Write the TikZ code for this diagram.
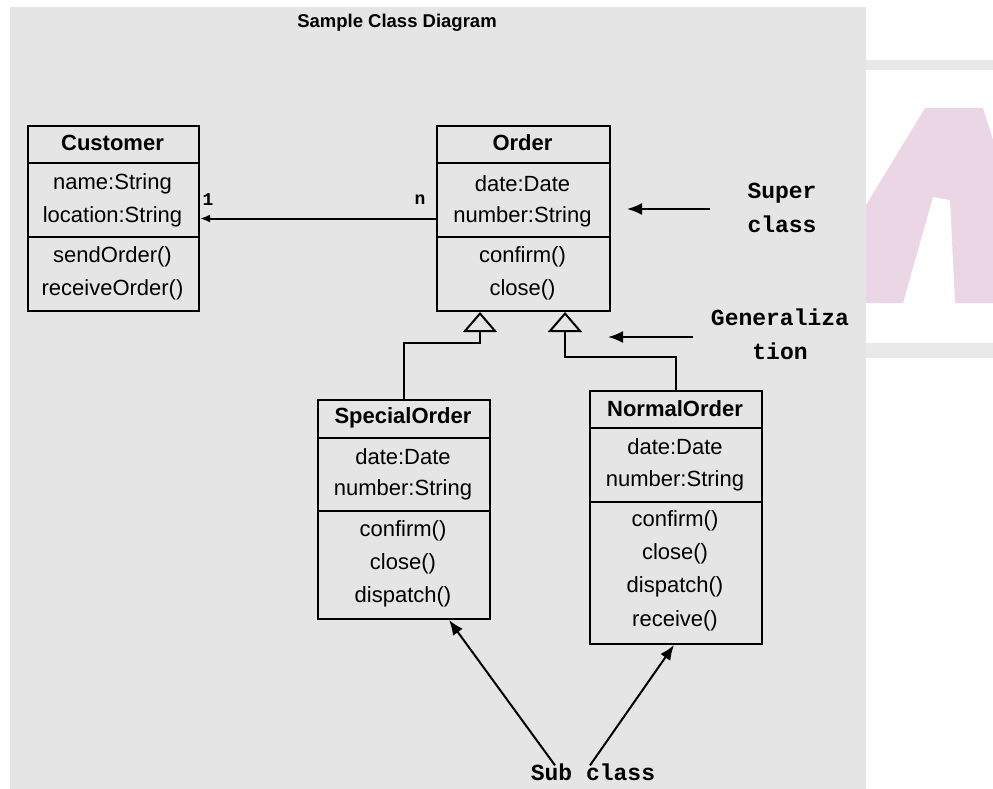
\documentclass[tikz,border=0pt]{standalone}
\usepackage{fontspec}
\setmainfont{Liberation Sans}
\setmonofont{Liberation Mono}
\usetikzlibrary{arrows.meta,calc}
\definecolor{panel}{RGB}{229,229,229}
\definecolor{wmpink}{RGB}{234,214,229}
\definecolor{wmgray}{RGB}{233,233,233}
\begin{document}
\begin{tikzpicture}[x=1pt,y=-1pt,
  clsbox/.style={draw=black, line width=2pt, inner sep=0pt, anchor=north west},
  divider/.style={draw=black, line width=2pt},
  member/.style={inner sep=0pt, font=\fontsize{22}{26}\selectfont},
  cname/.style={inner sep=0pt, font=\fontsize{22}{26}\selectfont\bfseries},
  mono/.style={inner sep=0pt, font=\fontsize{23}{34}\selectfont\ttfamily\bfseries, align=center},
  mult/.style={inner sep=0pt, font=\fontsize{18}{20}\selectfont\ttfamily\bfseries},
  conn/.style={draw=black, line width=2pt},
  gen/.style={conn, -{Triangle[open,length=20pt,width=34pt,line width=2pt]}},
  bigarrow/.style={conn, -{Latex[length=15pt,width=12pt]}},
  smallarrow/.style={conn, -{Latex[length=10pt,width=8pt]}}
]
\useasboundingbox (0,0) rectangle (993,789);
% background panel and watermark
\fill[panel] (10,7) rectangle (866,789);
\fill[wmgray] (866,60) rectangle (993,70);
\fill[wmgray] (866,343) rectangle (993,358);
\fill[wmpink] (866,303) -- (866,205) -- (925,108) -- (983,108) -- (993,140) -- (993,303) -- (955,303) -- (950,200) -- (933,197) -- (903,303) -- cycle;

% title
\node[inner sep=0pt, font=\fontsize{18.5}{22}\selectfont\bfseries] (title) at (397,23) {Sample Class Diagram};

% Customer
\node[clsbox, minimum width=171pt, minimum height=185pt] (customer) at (27,125) {};
\draw[divider] ($(customer.north west)+(0,38)$) -- ($(customer.north east)+(0,38)$);
\draw[divider] ($(customer.north west)+(0,112)$) -- ($(customer.north east)+(0,112)$);
\node[cname] (cust-name) at (112.5,143) {Customer};
\node[member] (cust-a1) at (112.5,184) {name:String};
\node[member] (cust-a2) at (112.5,217) {location:String};
\node[member] (cust-m1) at (112.5,257) {sendOrder()};
\node[member] (cust-m2) at (112.5,290) {receiveOrder()};

% Order
\node[clsbox, minimum width=173pt, minimum height=185pt] (order) at (436,125) {};
\draw[divider] ($(order.north west)+(0,38)$) -- ($(order.north east)+(0,38)$);
\draw[divider] ($(order.north west)+(0,112)$) -- ($(order.north east)+(0,112)$);
\node[cname] (ord-name) at (522.5,143) {Order};
\node[member] (ord-a1) at (522.5,184) {date:Date};
\node[member] (ord-a2) at (522.5,217) {number:String};
\node[member] (ord-m1) at (522.5,257) {confirm()};
\node[member] (ord-m2) at (522.5,290) {close()};

% SpecialOrder
\node[clsbox, minimum width=172pt, minimum height=219pt] (special) at (317,399) {};
\draw[divider] ($(special.north west)+(0,39)$) -- ($(special.north east)+(0,39)$);
\draw[divider] ($(special.north west)+(0,112)$) -- ($(special.north east)+(0,112)$);
\node[cname] (sp-name) at (403,418) {SpecialOrder};
\node[member] (sp-a1) at (403,457) {date:Date};
\node[member] (sp-a2) at (403,490) {number:String};
\node[member] (sp-m1) at (403,531) {confirm()};
\node[member] (sp-m2) at (403,564) {close()};
\node[member] (sp-m3) at (403,597) {dispatch()};

% NormalOrder
\node[clsbox, minimum width=172pt, minimum height=253pt] (normal) at (589,390) {};
\draw[divider] ($(normal.north west)+(0,38)$) -- ($(normal.north east)+(0,38)$);
\draw[divider] ($(normal.north west)+(0,112)$) -- ($(normal.north east)+(0,112)$);
\node[cname] (no-name) at (675,409) {NormalOrder};
\node[member] (no-a1) at (675,447) {date:Date};
\node[member] (no-a2) at (675,481) {number:String};
\node[member] (no-m1) at (675,521) {confirm()};
\node[member] (no-m2) at (675,554) {close()};
\node[member] (no-m3) at (675,587) {dispatch()};
\node[member] (no-m4) at (675,621) {receive()};

% association
\draw[smallarrow] (order.west) -- (customer.east);
\node[mult] (m1) at (208,200) {1};
\node[mult] (mn) at (420,200) {n};

% generalizations
\draw[gen] (special.north) -- ++(0,-56) -| ($(order.south west)+(44,0)$);
\draw[gen] (normal.north) -- ++(0,-33) -| ($(order.south west)+(129,0)$);

% annotations
\node[mono] (super) at (782,208) {Super\\class};
\coordinate (superT) at (627,209);
\coordinate (superS) at (710,209);
\draw[bigarrow] (superS) -- (superT);

\node[mono] (genlbl) at (780,334) {Generaliza\\tion};
\coordinate (genT) at (608,337);
\coordinate (genS) at (693,337);
\draw[bigarrow] (genS) -- (genT);

\node[mono] (sub) at (593,772) {Sub class};
\draw[bigarrow] ([xshift=-38pt,yshift=-2pt]sub.north) -- ([xshift=45pt]special.south);
\draw[bigarrow] ([xshift=-3pt,yshift=-2pt]sub.north) -- ([xshift=-2pt]normal.south);
\end{tikzpicture}
\end{document}
